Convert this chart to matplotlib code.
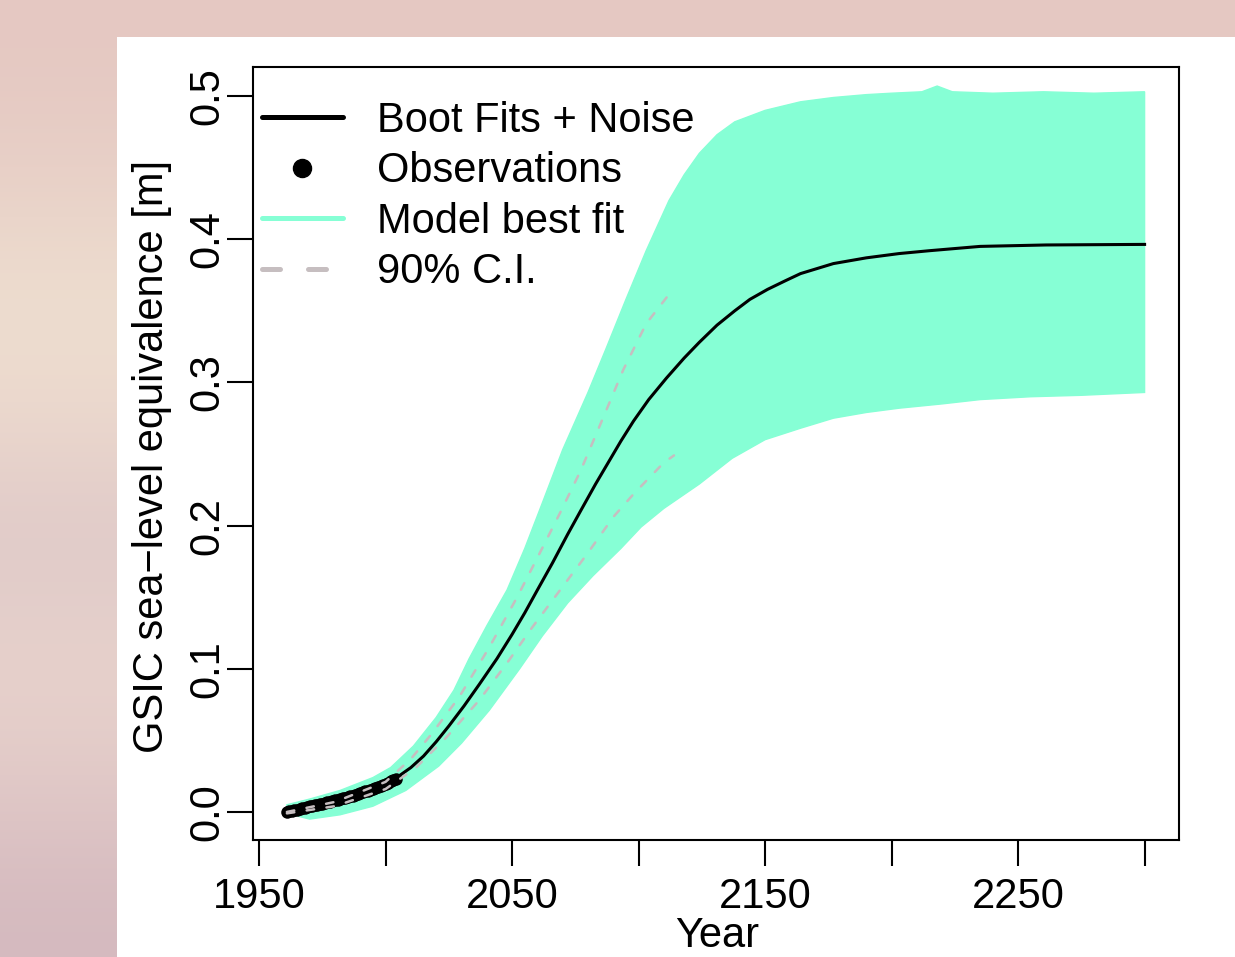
# Imports

import numpy
import matplotlib
matplotlib.use("Agg")
from matplotlib import pyplot
from matplotlib.lines import Line2D
from matplotlib.patches import Rectangle

# Data

bandUpperYears = [1961, 1970, 1982, 1995, 2002, 2011, 2020, 2027, 2033, 2040, 2048, 2055, 2062, 2070, 2080, 2087,
                  2095, 2103, 2112, 2118, 2124, 2131, 2138, 2150, 2164, 2177, 2190, 2200, 2212, 2218, 2224, 2240,
                  2260, 2280, 2300]
bandUpperValues = [0.005, 0.009, 0.015, 0.024, 0.031, 0.046, 0.066, 0.085, 0.107, 0.130, 0.155, 0.184, 0.216, 0.253,
                   0.293, 0.323, 0.358, 0.392, 0.427, 0.445, 0.460, 0.473, 0.482, 0.490, 0.496, 0.499, 0.501, 0.502,
                   0.503, 0.507, 0.503, 0.502, 0.503, 0.502, 0.503]

bandLowerYears = [1961, 1970, 1982, 1995, 2008, 2021, 2030, 2041, 2053, 2062, 2072, 2082, 2093, 2101, 2110, 2124,
                  2137, 2150, 2164, 2177, 2190, 2203, 2220, 2235, 2255, 2275, 2300]
bandLowerValues = [-0.001, -0.005, -0.002, 0.004, 0.015, 0.032, 0.048, 0.071, 0.100, 0.123, 0.146, 0.165, 0.184,
                   0.199, 0.212, 0.229, 0.247, 0.260, 0.268, 0.275, 0.279, 0.282, 0.285, 0.288, 0.290, 0.291, 0.293]

fitYears = [1961, 1970, 1982, 1995, 2004, 2010, 2015, 2020, 2025, 2031, 2037, 2044, 2050, 2055, 2060, 2066, 2072,
            2077, 2083, 2088, 2093, 2098, 2104, 2111, 2118, 2124, 2131, 2138, 2144, 2151, 2158, 2164, 2177, 2190,
            2203, 2215, 2235, 2261, 2300]
fitValues = [0.000, 0.003, 0.007, 0.014, 0.0235, 0.031, 0.039, 0.049, 0.060, 0.074, 0.089, 0.107, 0.124, 0.139,
             0.155, 0.174, 0.194, 0.210, 0.229, 0.244, 0.259, 0.273, 0.288, 0.303, 0.317, 0.328, 0.340, 0.350, 0.358,
             0.365, 0.371, 0.376, 0.383, 0.387, 0.390, 0.392, 0.395, 0.396, 0.3964]

obsYears = [1961, 1962, 1963, 1964, 1965, 1966, 1967, 1968, 1969, 1970, 1971, 1972, 1973, 1974, 1975, 1976, 1977,
            1978, 1979, 1980, 1981, 1982, 1983, 1984, 1985, 1986, 1987, 1988, 1989, 1990, 1991, 1992, 1993, 1994,
            1995, 1996, 1997, 1998, 1999, 2000, 2001, 2002, 2003, 2004]
obsValues = [0.0000, 0.0004, 0.0009, 0.0013, 0.0017, 0.0021, 0.0026, 0.0030, 0.0034, 0.0038, 0.0042, 0.0046, 0.0050,
             0.0054, 0.0058, 0.0062, 0.0066, 0.0071, 0.0076, 0.0081, 0.0085, 0.0090, 0.0094, 0.0099, 0.0104, 0.0109,
             0.0114, 0.0119, 0.0125, 0.0131, 0.0137, 0.0143, 0.0149, 0.0155, 0.0162, 0.0169, 0.0176, 0.0183, 0.0190,
             0.0197, 0.0205, 0.0213, 0.0221, 0.0230]

ciUpperYears = [1961, 1980, 2000, 2010, 2018, 2029, 2041, 2052, 2061, 2069, 2077, 2084, 2094, 2103, 2114]
ciUpperValues = [0.000, 0.007, 0.021, 0.037, 0.054, 0.080, 0.115, 0.150, 0.181, 0.209, 0.238, 0.267, 0.309, 0.341,
                 0.366]
ciLowerYears = [1961, 1980, 2000, 2012, 2024, 2037, 2048, 2058, 2069, 2080, 2090, 2098, 2110, 2114]
ciLowerValues = [-0.001, 0.004, 0.016, 0.031, 0.052, 0.078, 0.104, 0.129, 0.155, 0.181, 0.206, 0.222, 0.244, 0.249]

xTicks = [1950, 2000, 2050, 2100, 2150, 2200, 2250, 2300]
xTickLabels = ["1950", "", "2050", "", "2150", "", "2250", ""]
yTicks = [0.0, 0.1, 0.2, 0.3, 0.4, 0.5]
yTickLabels = ["0.0", "0.1", "0.2", "0.3", "0.4", "0.5"]

legendLabels = ["Boot Fits + Noise", "Observations", "Model best fit", "90% C.I."]

# Styles

bandColour = "#86FFD5"
ciColour = "#C6BEC0"
fontSize = 30
W, H = 1235.0, 957.0

pyplot.rcParams["font.family"] = ["Liberation Sans", "DejaVu Sans"]

fig = pyplot.figure(figsize = (W / 100, H / 100), dpi = 100)

# Blurred photo background behind the white panel

bgStops = numpy.array([[229, 200, 194], [232, 208, 199], [238, 223, 208], [236, 216, 205], [222, 200, 200],
                       [232, 211, 204], [226, 202, 200], [213, 186, 191]]) / 255.0
bg = fig.add_axes([0, 0, 1, 1], zorder = -2)
bg.imshow(bgStops[:, None, :], aspect = "auto", extent = [0, 1, 0, 1], interpolation = "bicubic")
bg.axis("off")
fig.patches.append(Rectangle((117 / W, 0), 1, 1 - 37 / H, transform = fig.transFigure,
                             facecolor = "white", edgecolor = "none", zorder = -1))

# Main axes

ax = fig.add_axes([253 / W, 1 - 840 / H, 926 / W, 773 / H])

bandX = numpy.concatenate([bandUpperYears, bandLowerYears[::-1]])
bandY = numpy.concatenate([bandUpperValues, bandLowerValues[::-1]])
ax.fill(bandX, bandY, color = bandColour, lw = 1.0, zorder = 1)

ax.plot(fitYears, fitValues, color = "black", lw = 2.2, zorder = 2)
ax.plot(obsYears, obsValues, "o", color = "black", markersize = 9, markeredgewidth = 0, zorder = 3)
ax.plot(ciUpperYears, ciUpperValues, color = ciColour, lw = 1.8, dashes = (3.0, 5.0), dash_capstyle = "round", zorder = 4)
ax.plot(ciLowerYears, ciLowerValues, color = ciColour, lw = 1.8, dashes = (3.0, 5.0), dash_capstyle = "round", zorder = 4)

ax.set_xlim(1947.6, 2313.6)
ax.set_ylim(-0.0196, 0.5203)

ax.set_xticks(xTicks)
ax.set_xticklabels(xTickLabels)
ax.set_yticks(yTicks)
ax.set_yticklabels(yTickLabels)

ax.tick_params(direction = "out", length = 18.7, width = 1.5, labelsize = fontSize)
ax.tick_params(axis = "x", pad = 8)
ax.tick_params(axis = "y", pad = 0, labelrotation = 90)
for label in ax.get_yticklabels():
    label.set_va("center")

for spine in ax.spines.values():
    spine.set_linewidth(1.5)

# Legend

handles = [Line2D([], [], color = "black", lw = 3.6, solid_capstyle = "round"),
           Line2D([], [], color = "black", marker = "o", ls = "none", markersize = 13),
           Line2D([], [], color = bandColour, lw = 3.6, solid_capstyle = "round"),
           Line2D([], [], color = ciColour, lw = 3.6, dashes = (3.6, 5.6), dash_capstyle = "round")]

ax.legend(handles, legendLabels, loc = "upper left", bbox_to_anchor = (262 / W, 1 - 101 / H),
          bbox_transform = fig.transFigure, frameon = False, fontsize = fontSize, handlelength = 1.94,
          handletextpad = 0.82, labelspacing = 0.25, borderpad = 0, borderaxespad = 0)

# Axis titles

fig.text(152 / W, 1 - 456 / H, "GSIC sea\u2212level equivalence [m]", rotation = 90, ha = "center",
         va = "center", fontsize = fontSize)
fig.text(717 / W, 1 / H, "Year", ha = "center", va = "bottom", fontsize = fontSize)

fig.savefig("out.png", dpi = 100)
